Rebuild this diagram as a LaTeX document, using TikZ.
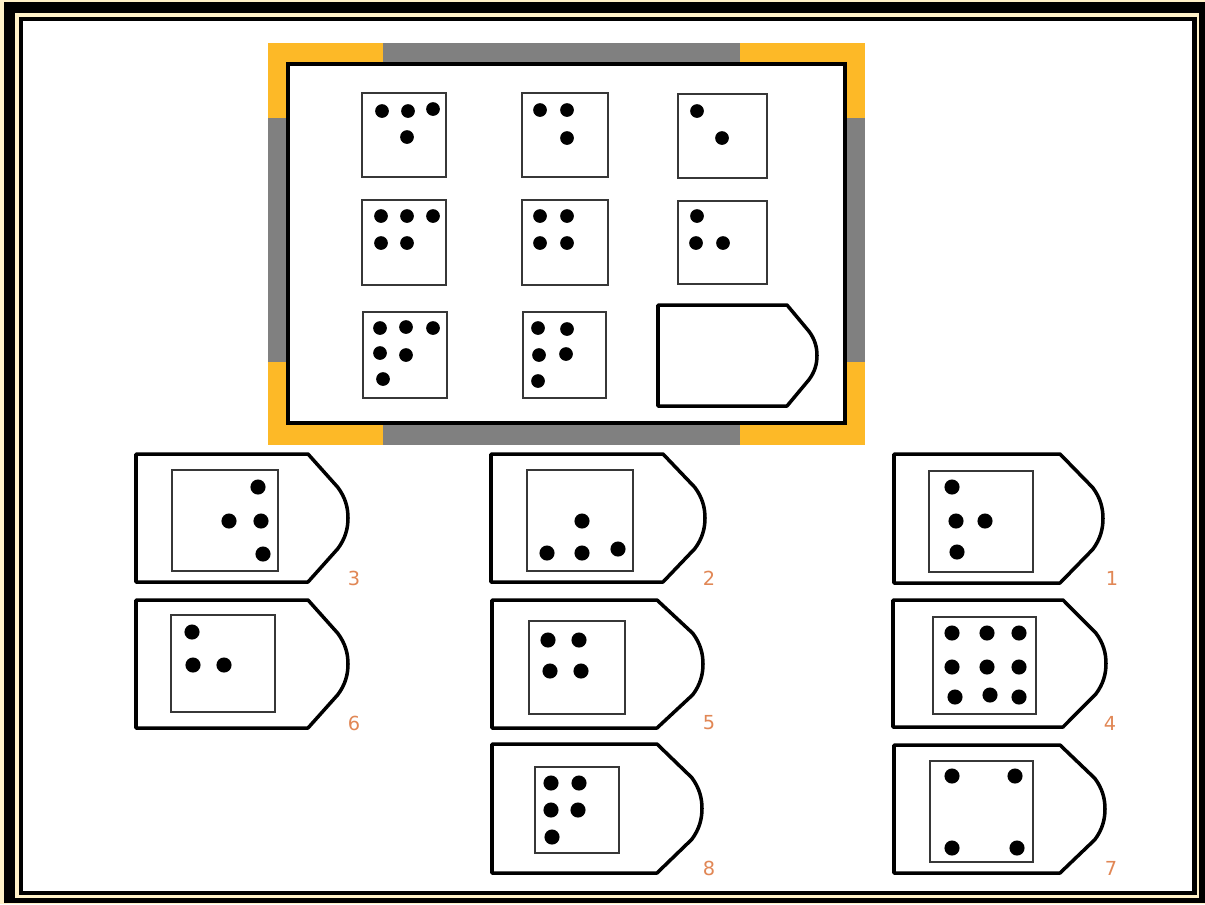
\documentclass[tikz,border=0pt]{standalone}
\usepackage{fontspec}
\newfontfamily\labelfont{DejaVu Sans}
\definecolor{cream}{RGB}{255,241,200}
\definecolor{frameorange}{RGB}{253,185,39}
\definecolor{framegray}{RGB}{128,128,128}
\definecolor{boxgray}{RGB}{55,55,55}
\definecolor{labelorange}{RGB}{225,135,85}
\tikzset{
  cardline/.style={draw=black, line width=2pt, line join=round, fill=white},
  cellbox/.style={draw=boxgray, line width=1.1pt},
  mdot/.style={fill=black},
  optlabel/.style={text=labelorange, font=\labelfont\fontsize{11}{13}\selectfont, inner sep=0pt}
}
\newcommand\cardshape[5]{% left, top, corner, tip, bottom
  \pgfmathsetmacro\cmid{(#2+#5)/2}
  \pgfmathsetmacro\chh{(#5-#2)/2}
  \draw[cardline] (#1,#2) -- (#3,#2)
    -- ({#4-0.16*\chh},{\cmid-0.48*\chh})
    .. controls ({#4-0.04*\chh},{\cmid-0.32*\chh}) and ({#4},{\cmid-0.16*\chh}) .. ({#4},{\cmid})
    .. controls ({#4},{\cmid+0.16*\chh}) and ({#4-0.04*\chh},{\cmid+0.32*\chh}) .. ({#4-0.16*\chh},{\cmid+0.48*\chh})
    -- (#3,#5) -- (#1,#5) -- cycle;
}
\newcommand\mdots[2]{\foreach \p in {#2} {\fill[mdot] (\p) circle[radius=#1];}}
\begin{document}
\begin{tikzpicture}[x=0.02cm, y=-0.02cm]
\useasboundingbox (0,0) rectangle (1205,904);
% page border
\fill[cream] (0,0) rectangle (1205,904);
\fill[black] (4,2) rectangle (1205,903);
\fill[cream] (15,13) rectangle (1199,898);
\fill[black] (19,17) rectangle (1197,895);
\fill[white] (23,21) rectangle (1192,891);
% puzzle frame
\fill[framegray] (268,43) rectangle (865,445);
\fill[frameorange] (268,43) rectangle (383,62);
\fill[frameorange] (268,43) rectangle (286,118);
\fill[frameorange] (740,43) rectangle (865,62);
\fill[frameorange] (847,43) rectangle (865,118);
\fill[frameorange] (268,425) rectangle (383,445);
\fill[frameorange] (268,362) rectangle (286,445);
\fill[frameorange] (740,425) rectangle (865,445);
\fill[frameorange] (847,362) rectangle (865,445);
\fill[white] (286,62) rectangle (847,425);
\draw[black, line width=2.3pt] (288,64) rectangle (845,423);
% matrix cells
\draw[cellbox] (362,93) rectangle (446,177);
\mdots{3.9pt}{{382,111},{408,111},{433,109},{407,137}}
\draw[cellbox] (522,93) rectangle (608,177);
\mdots{3.9pt}{{540,110},{567,110},{567,138}}
\draw[cellbox] (678,94) rectangle (767,178);
\mdots{3.9pt}{{697,111},{722,138}}
\draw[cellbox] (362,200) rectangle (446,285);
\mdots{3.9pt}{{381,216},{407,216},{433,216},{381,243},{407,243}}
\draw[cellbox] (522,200) rectangle (608,285);
\mdots{3.9pt}{{540,216},{567,216},{540,243},{567,243}}
\draw[cellbox] (678,201) rectangle (767,284);
\mdots{3.9pt}{{697,216},{696,243},{723,243}}
\draw[cellbox] (363,312) rectangle (447,398);
\mdots{3.9pt}{{380,328},{406,327},{433,328},{380,353},{406,355},{383,379}}
\draw[cellbox] (523,312) rectangle (606,398);
\mdots{3.9pt}{{538,328},{567,329},{539,355},{566,354},{538,381}}
\cardshape{658}{305}{787}{817}{406}
% answer 3
\cardshape{136}{454}{308}{348}{582}
\draw[cellbox] (172,470) rectangle (278,571);
\mdots{4.3pt}{{258,487},{229,521},{261,521},{263,554}}
\node[optlabel] (lbl3) at (354,578) {3};
% answer 2
\cardshape{491}{454}{663}{705}{582}
\draw[cellbox] (527,470) rectangle (633,571);
\mdots{4.3pt}{{582,521},{547,553},{582,553},{618,549}}
\node[optlabel] (lbl2) at (709,578) {2};
% answer 1
\cardshape{894}{454}{1060}{1103}{583}
\draw[cellbox] (929,471) rectangle (1033,572);
\mdots{4.3pt}{{952,487},{956,521},{985,521},{957,552}}
\node[optlabel] (lbl1) at (1112,578) {1};
% answer 6
\cardshape{136}{600}{308}{348}{728}
\draw[cellbox] (171,615) rectangle (275,712);
\mdots{4.3pt}{{192,632},{193,665},{224,665}}
\node[optlabel] (lbl6) at (354,723) {6};
% answer 5
\cardshape{492}{600}{657}{703}{728}
\draw[cellbox] (529,621) rectangle (625,714);
\mdots{4.3pt}{{548,640},{579,640},{550,671},{581,671}}
\node[optlabel] (lbl5) at (709,723) {5};
% answer 4
\cardshape{893}{600}{1063}{1106}{727}
\draw[cellbox] (933,617) rectangle (1036,714);
\mdots{4.3pt}{{952,633},{987,633},{1019,633},{952,667},{987,667},{1019,667},{955,697},{990,695},{1019,697}}
\node[optlabel] (lbl4) at (1110,723) {4};
% answer 8
\cardshape{492}{744}{657}{702}{873}
\draw[cellbox] (535,767) rectangle (619,853);
\mdots{4.3pt}{{551,783},{579,783},{551,810},{578,810},{552,837}}
\node[optlabel] (lbl8) at (709,868) {8};
% answer 7
\cardshape{894}{745}{1060}{1105}{873}
\draw[cellbox] (930,761) rectangle (1033,862);
\mdots{4.3pt}{{952,776},{1015,776},{952,848},{1017,848}}
\node[optlabel] (lbl7) at (1111,868) {7};
\end{tikzpicture}
\end{document}
